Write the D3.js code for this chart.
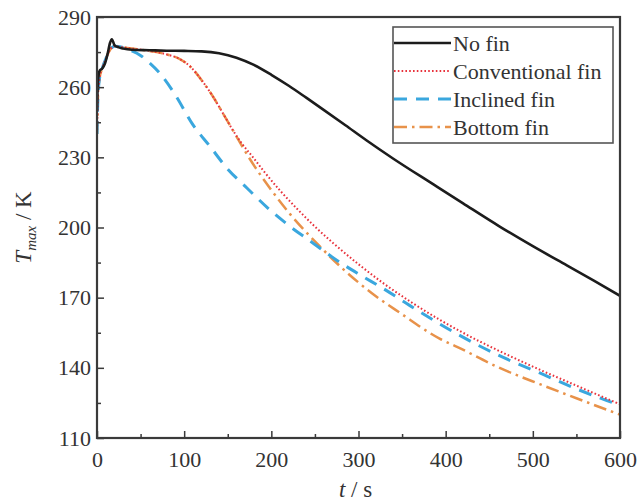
<!DOCTYPE html>
<html>
<head>
<meta charset="utf-8">
<script src="https://cdn.jsdelivr.net/npm/d3@7"></script>
<style>
  html, body { margin: 0; padding: 0; background: #fff; }
  svg { display: block; }
</style>
</head>
<body>
<svg id="chart" width="640" height="501"></svg>
<script>
// Maximum temperature histories (t in s, T in K)
const noFinT = [0,1,3,6,9,12,15,17,20,25,30,40,60,80,100,120,140,160,180,200,220,240,260,285,309,340,386,420,462,500,539,570,600];
const noFinV = [250,262,267,268,270,274,279,280.5,278,277,276.5,276,275.8,275.6,275.5,275.3,274.5,272.6,269.5,265.3,260.6,255.5,250.3,243.7,237.3,229.4,218.4,210.3,200.4,192,183.8,177.3,170.8];

const convT = [0,1,3,6,10,15,20,30,40,60,80,95,107,120,133,145,156,165,179,191,210,229,250,271,300,328,360,393,439,470,508,550,600];
const convV = [240,255,264,268,272,276,277.5,277,276.5,275.5,274,272,268.8,263,256,248.5,241.5,236.5,230,224.2,215.8,208.2,200.4,193.3,184.3,176.3,168.2,160.6,151.3,145.7,139.2,132.4,124.4];

const inclT = [0,1,3,6,10,15,20,30,40,49,60,72,91,109,130,149,172,196,222,248,275,302,328,359,413,460,508,550,585,600];
const inclV = [240,255,264,268,272,276,277.5,277,275.5,273.8,270.5,266,256,244.5,234.5,225.4,216.9,208.3,200.3,193.3,186,179.7,174,166.6,154.5,145.5,137.8,131,126,124];

const botT = [0,1,3,6,10,15,20,30,40,60,80,95,107,120,133,145,156,175,200,222,252,283,315,348,393,413,460,508,550,589,600];
const botV = [240,255,264,268,272,276,277.5,277,276.5,275.5,274,272,268.8,263,256,248.5,241.5,229.5,216,205.5,193.3,182,172,163.4,152.5,149,140.3,133,127,121.5,120];

const xTicks = [0,100,200,300,400,500,600];
const yTicks = [110,140,170,200,230,260,290];

const seriesNames = ["No fin","Conventional fin","Inclined fin","Bottom fin"];

const series = [
  {name: seriesNames[0], t: noFinT, v: noFinV, color: "#1c1c1c", width: 2.6, dash: null},
  {name: seriesNames[1], t: convT, v: convV, color: "#e8323c", width: 2, dash: "1.6,2.2"},
  {name: seriesNames[2], t: inclT, v: inclV, color: "#3aa7de", width: 3, dash: "13,9"},
  {name: seriesNames[3], t: botT, v: botV, color: "#e8924a", width: 2.5, dash: "13,5,2.5,5"}
];

const serif = "'Liberation Serif', 'Times New Roman', 'DejaVu Serif', serif";
const textColor = "#333";

const svg = d3.select("#chart");
const plotL = 97, plotR = 620, plotT = 17, plotB = 438;

const x = d3.scaleLinear().domain([0, 600]).range([plotL, plotR]);
const y = d3.scaleLinear().domain([110, 290]).range([plotB, plotT]);

const line = d3.line().x(d => x(d[0])).y(d => y(d[1])).curve(d3.curveMonotoneX);

svg.append("defs").append("clipPath").attr("id", "plotclip")
  .append("rect").attr("x", plotL).attr("y", plotT).attr("width", plotR - plotL).attr("height", plotB - plotT);

const plot = svg.append("g").attr("clip-path", "url(#plotclip)");

// draw in reverse so the black curve sits on top
series.slice().reverse().forEach(s => {
  const pts = s.t.map((t, i) => [t, s.v[i]]);
  plot.append("path")
    .datum(pts)
    .attr("d", line)
    .attr("fill", "none")
    .attr("stroke", s.color)
    .attr("stroke-width", s.width)
    .attr("stroke-dasharray", s.dash)
    .attr("stroke-linejoin", "round");
});

// Axes with inward ticks
const axisColor = "#3a3a3a";
function styleAxis(g) {
  g.attr("font-family", serif).attr("font-size", 22);
  g.select(".domain").remove();
  g.selectAll("line").attr("stroke", axisColor).attr("stroke-width", 1.5);
  g.selectAll("text").attr("fill", textColor).attr("font-family", serif).attr("font-size", 22);
}

const xAxis = svg.append("g").attr("transform", `translate(0,${plotB})`)
  .call(d3.axisBottom(x).tickValues(xTicks).tickSize(-7).tickPadding(13).tickFormat(d3.format("d")));
styleAxis(xAxis);
xAxis.selectAll("text").attr("dy", "0.71em");

const xMinor = svg.append("g").attr("transform", `translate(0,${plotB})`)
  .call(d3.axisBottom(x).tickValues(d3.range(50, 600, 100)).tickSize(-4).tickFormat(""));
styleAxis(xMinor);

const yAxis = svg.append("g").attr("transform", `translate(${plotL},0)`)
  .call(d3.axisLeft(y).tickValues(yTicks).tickSize(-7).tickPadding(6).tickFormat(d3.format("d")));
styleAxis(yAxis);

const yMinor = svg.append("g").attr("transform", `translate(${plotL},0)`)
  .call(d3.axisLeft(y).tickValues(d3.range(125, 290, 30)).tickSize(-4).tickFormat(""));
styleAxis(yMinor);

// Frame
svg.append("rect")
  .attr("x", plotL).attr("y", plotT)
  .attr("width", plotR - plotL).attr("height", plotB - plotT)
  .attr("fill", "none").attr("stroke", axisColor).attr("stroke-width", 2.2);

// Axis titles
const xt = svg.append("text")
  .attr("x", (plotL + plotR) / 2 - 3).attr("y", 497)
  .attr("text-anchor", "middle")
  .attr("font-family", serif).attr("font-size", 23).attr("fill", textColor);
xt.append("tspan").attr("font-style", "italic").text("t");
xt.append("tspan").text(" / s");

const yt = svg.append("text")
  .attr("transform", `translate(31,${(plotT + plotB) / 2}) rotate(-90)`)
  .attr("text-anchor", "middle")
  .attr("font-family", serif).attr("font-size", 23).attr("fill", textColor);
yt.append("tspan").attr("font-style", "italic").text("T");
yt.append("tspan").attr("font-style", "italic").attr("dy", 5).attr("font-size", 15).text("max");
yt.append("tspan").attr("dy", -5).text(" / K");

// Legend
const lg = svg.append("g");
const lgX = 393, lgY = 27, lgW = 220, lgH = 116;
lg.append("rect").attr("x", lgX).attr("y", lgY).attr("width", lgW).attr("height", lgH)
  .attr("fill", "#fff").attr("stroke", "#555").attr("stroke-width", 1.6);

series.forEach((s, i) => {
  const yy = lgY + 16 + i * 28;
  lg.append("line")
    .attr("x1", lgX + 1).attr("x2", lgX + 58).attr("y1", yy).attr("y2", yy)
    .attr("stroke", s.color).attr("stroke-width", s.width)
    .attr("stroke-dasharray", s.dash);
  lg.append("text")
    .attr("x", lgX + 60).attr("y", yy).attr("dy", "0.35em")
    .attr("font-family", serif).attr("font-size", 22).attr("fill", textColor)
    .text(s.name);
});
</script>
</body>
</html>
